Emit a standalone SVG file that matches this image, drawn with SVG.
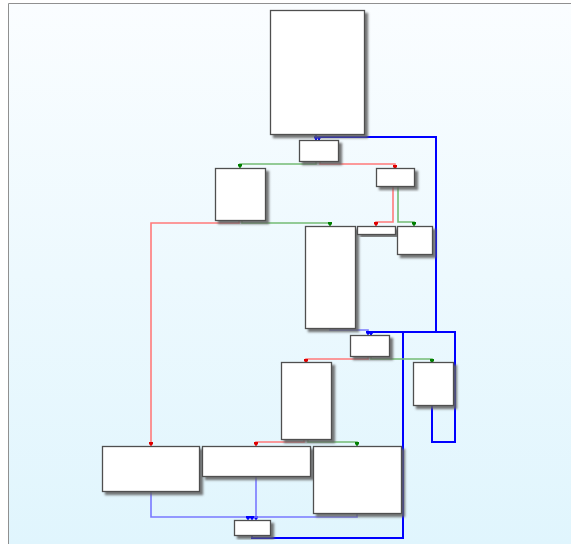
<svg xmlns="http://www.w3.org/2000/svg" width="571" height="544" viewBox="0 0 571 544">
<defs>
<linearGradient id="bg" x1="0" y1="0" x2="0" y2="1">
<stop offset="0" stop-color="#fafdff"/>
<stop offset="1" stop-color="#e0f5fd"/>
</linearGradient>
<filter id="sh" x="-20%" y="-20%" width="150%" height="150%">
<feDropShadow dx="3" dy="3" stdDeviation="1" flood-color="#606060" flood-opacity="0.85"/>
</filter>
<marker id="ag" markerUnits="userSpaceOnUse" markerWidth="4" markerHeight="4" refX="2" refY="4" viewBox="0 0 4 4"><path d="M0,0 L4,0 L4,2 L2,4 L0,2 Z" fill="#008000"/></marker>
<marker id="ar" markerUnits="userSpaceOnUse" markerWidth="4" markerHeight="4" refX="2" refY="4" viewBox="0 0 4 4"><path d="M0,0 L4,0 L4,2 L2,4 L0,2 Z" fill="#e00000"/></marker>
<marker id="ab" markerUnits="userSpaceOnUse" markerWidth="4" markerHeight="4" refX="2" refY="4" viewBox="0 0 4 4"><path d="M0,0 L4,0 L4,2 L2,4 L0,2 Z" fill="#0000ff"/></marker>
</defs>
<style>
.node rect{fill:#ffffff;stroke:#505050;stroke-width:1.3;filter:url(#sh)}
.e{fill:none;stroke-width:1.6}
.g{stroke:#74bc74}
.r{stroke:#ff7a7a}
.lb{stroke:#7878ff}
.db{stroke:#0000ff;stroke-width:2}
</style>
<rect x="0" y="0" width="571" height="544" fill="#ffffff"/>
<rect x="8.5" y="3.5" width="563" height="541" fill="url(#bg)"/>
<path d="M8.5,544 V3.5 H571" fill="none" stroke="#909090" stroke-width="1"/>
<g id="connectors">
<path class="e db" d="M436,332 V137 H319 V140" marker-end="url(#ab)"/>
<path class="e db" d="M316,134 V140" marker-end="url(#ab)"/>
<path class="e db" d="M252,536 V538 H403 V332 H371 V335" marker-end="url(#ab)"/>
<path class="e db" d="M432,406 V442 H455 V332 H371 V335" marker-end="url(#ab)"/>
<path class="e g" d="M316,162 V164 H240 V168" marker-end="url(#ag)"/>
<path class="e r" d="M320,162 V164 H395 V169" marker-end="url(#ar)"/>
<path class="e r" d="M239,220 V223 H151 V446" marker-end="url(#ar)"/>
<path class="e g" d="M242,220 V223 H330 V226" marker-end="url(#ag)"/>
<path class="e r" d="M393,186 V222 H376 V226" marker-end="url(#ar)"/>
<path class="e g" d="M398,186 V222 H414 V226" marker-end="url(#ag)"/>
<path class="e lb" d="M330,328 V330 H368 V335" marker-end="url(#ab)"/>
<path class="e r" d="M368,356 V359 H306 V363" marker-end="url(#ar)"/>
<path class="e g" d="M371,356 V359 H432 V363" marker-end="url(#ag)"/>
<path class="e r" d="M304,440 V442 H256 V446" marker-end="url(#ar)"/>
<path class="e g" d="M308,440 V442 H357 V446" marker-end="url(#ag)"/>
<path class="e lb" d="M151,492 V517 H248 V520" marker-end="url(#ab)"/>
<path class="e lb" d="M256,476 V520" marker-end="url(#ab)"/>
<path class="e lb" d="M357,514 V517 H252 V520" marker-end="url(#ab)"/>
</g>
<g id="n1" class="node"><rect x="270.5" y="10.5" width="94" height="124"/></g>
<g id="n2" class="node"><rect x="299.5" y="140.5" width="39" height="21"/></g>
<g id="n3" class="node"><rect x="215.5" y="168.5" width="50" height="52"/></g>
<g id="n4" class="node"><rect x="376.5" y="168.5" width="38" height="18"/></g>
<g id="n5" class="node"><rect x="305.5" y="226.5" width="50" height="102"/></g>
<g id="n6" class="node"><rect x="357.5" y="226.5" width="38" height="8"/></g>
<g id="n7" class="node"><rect x="397.5" y="226.5" width="35" height="28"/></g>
<g id="n9" class="node"><rect x="350.5" y="335.5" width="39" height="21"/></g>
<g id="n10" class="node"><rect x="281.5" y="362.5" width="50" height="77"/></g>
<g id="n11" class="node"><rect x="413.5" y="362.5" width="40" height="43"/></g>
<g id="n8" class="node"><rect x="102.5" y="446.5" width="97" height="45"/></g>
<g id="n12" class="node"><rect x="202.5" y="446.5" width="108" height="30"/></g>
<g id="n13" class="node"><rect x="313.5" y="446.5" width="88" height="67"/></g>
<g id="n14" class="node"><rect x="234.5" y="520.5" width="36" height="15"/></g>
</svg>
